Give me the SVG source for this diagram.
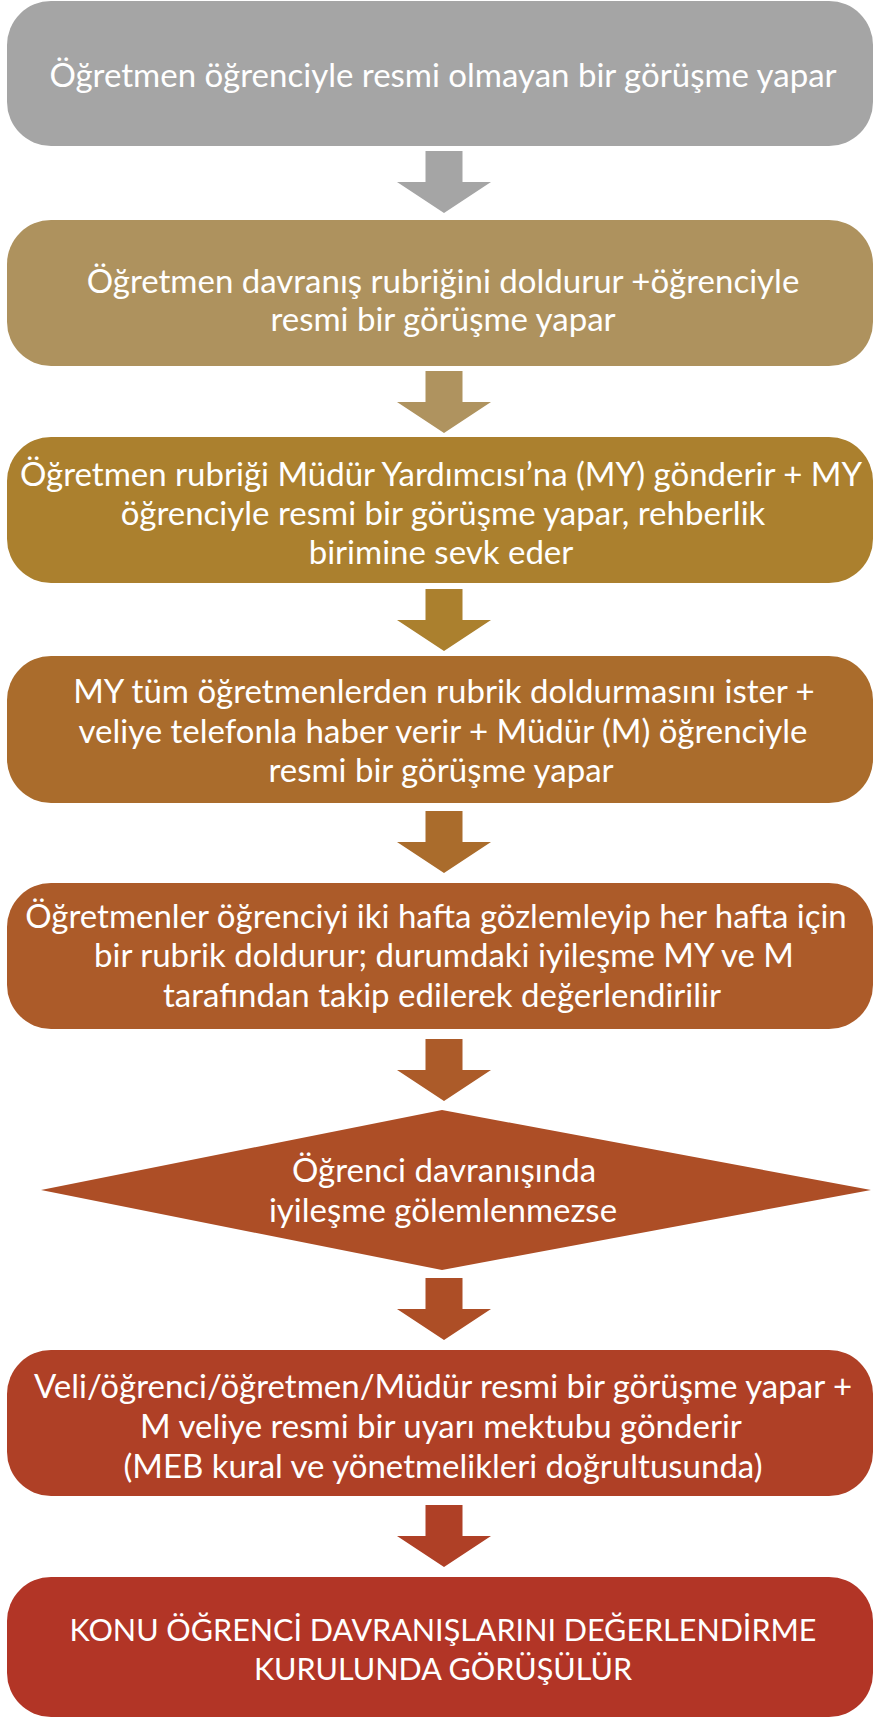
<svg xmlns="http://www.w3.org/2000/svg" width="873" height="1718" viewBox="0 0 873 1718">
<style>
text { font-family: Lato, "Open Sans", "Liberation Sans", sans-serif; font-size: 33px; fill: #ffffff; text-anchor: middle; }
text.caps { font-size: 30.5px; }
</style>
<defs>
<path id="arrow" d="M-18.5,0 H18.5 V31 H47 L0,62 L-47,31 H-18.5 Z"/>
</defs>
<rect width="873" height="1718" fill="#ffffff"/>
<g id="connectors">
<use href="#arrow" x="444" y="151" fill="#a5a5a5"/>
<use href="#arrow" x="444" y="371" fill="#af935f"/>
<use href="#arrow" x="444" y="589" fill="#ab802e"/>
<use href="#arrow" x="444" y="811" fill="#aa6c2c"/>
<use href="#arrow" x="444" y="1039" fill="#ac5b29"/>
<use href="#arrow" x="444" y="1278" fill="#ad4e26"/>
<use href="#arrow" x="444" y="1505" fill="#af4026"/>
</g>
<g id="node1">
<rect x="7" y="1" width="866" height="145" rx="44" fill="#a5a5a5"/>
<text x="443" y="87">Öğretmen öğrenciyle resmi olmayan bir görüşme yapar</text>
</g>
<g id="node2">
<rect x="7" y="220" width="866" height="146" rx="44" fill="#ae925e"/>
<text x="443" y="293">Öğretmen davranış rubriğini doldurur +öğrenciyle</text>
<text x="443" y="331">resmi bir görüşme yapar</text>
</g>
<g id="node3">
<rect x="7" y="437" width="866" height="146" rx="44" fill="#ab802e"/>
<text x="441" y="486">Öğretmen rubriği Müdür Yardımcısı’na (MY) gönderir + MY</text>
<text x="443" y="525">öğrenciyle resmi bir görüşme yapar, rehberlik</text>
<text x="441" y="564">birimine sevk eder</text>
</g>
<g id="node4">
<rect x="7" y="656" width="866" height="147" rx="44" fill="#aa6c2c"/>
<text x="444" y="703">MY tüm öğretmenlerden rubrik doldurmasını ister +</text>
<text x="443" y="743">veliye telefonla haber verir + Müdür (M) öğrenciyle</text>
<text x="441" y="782">resmi bir görüşme yapar</text>
</g>
<g id="node5">
<rect x="7" y="883" width="866" height="146" rx="44" fill="#ac5b29"/>
<text x="436" y="928">Öğretmenler öğrenciyi iki hafta gözlemleyip her hafta için</text>
<text x="444" y="967">bir rubrik doldurur; durumdaki iyileşme MY ve M</text>
<text x="442" y="1007">tarafından takip edilerek değerlendirilir</text>
</g>
<g id="node6">
<polygon points="442,1110 871,1190 442,1270 41,1190" fill="#ad4e26"/>
<text x="444" y="1182">Öğrenci davranışında</text>
<text x="443" y="1222">iyileşme gölemlenmezse</text>
</g>
<g id="node7">
<rect x="7" y="1350" width="866" height="146" rx="44" fill="#af4026"/>
<text x="443" y="1398">Veli/öğrenci/öğretmen/Müdür resmi bir görüşme yapar +</text>
<text x="441" y="1438">M veliye resmi bir uyarı mektubu gönderir</text>
<text x="443" y="1478">(MEB kural ve yönetmelikleri doğrultusunda)</text>
</g>
<g id="node8">
<rect x="7" y="1577" width="866" height="140" rx="44" fill="#b23526"/>
<text class="caps" x="443" y="1641">KONU ÖĞRENCİ DAVRANIŞLARINI DEĞERLENDİRME</text>
<text class="caps" x="443" y="1680">KURULUNDA GÖRÜŞÜLÜR</text>
</g>
</svg>
